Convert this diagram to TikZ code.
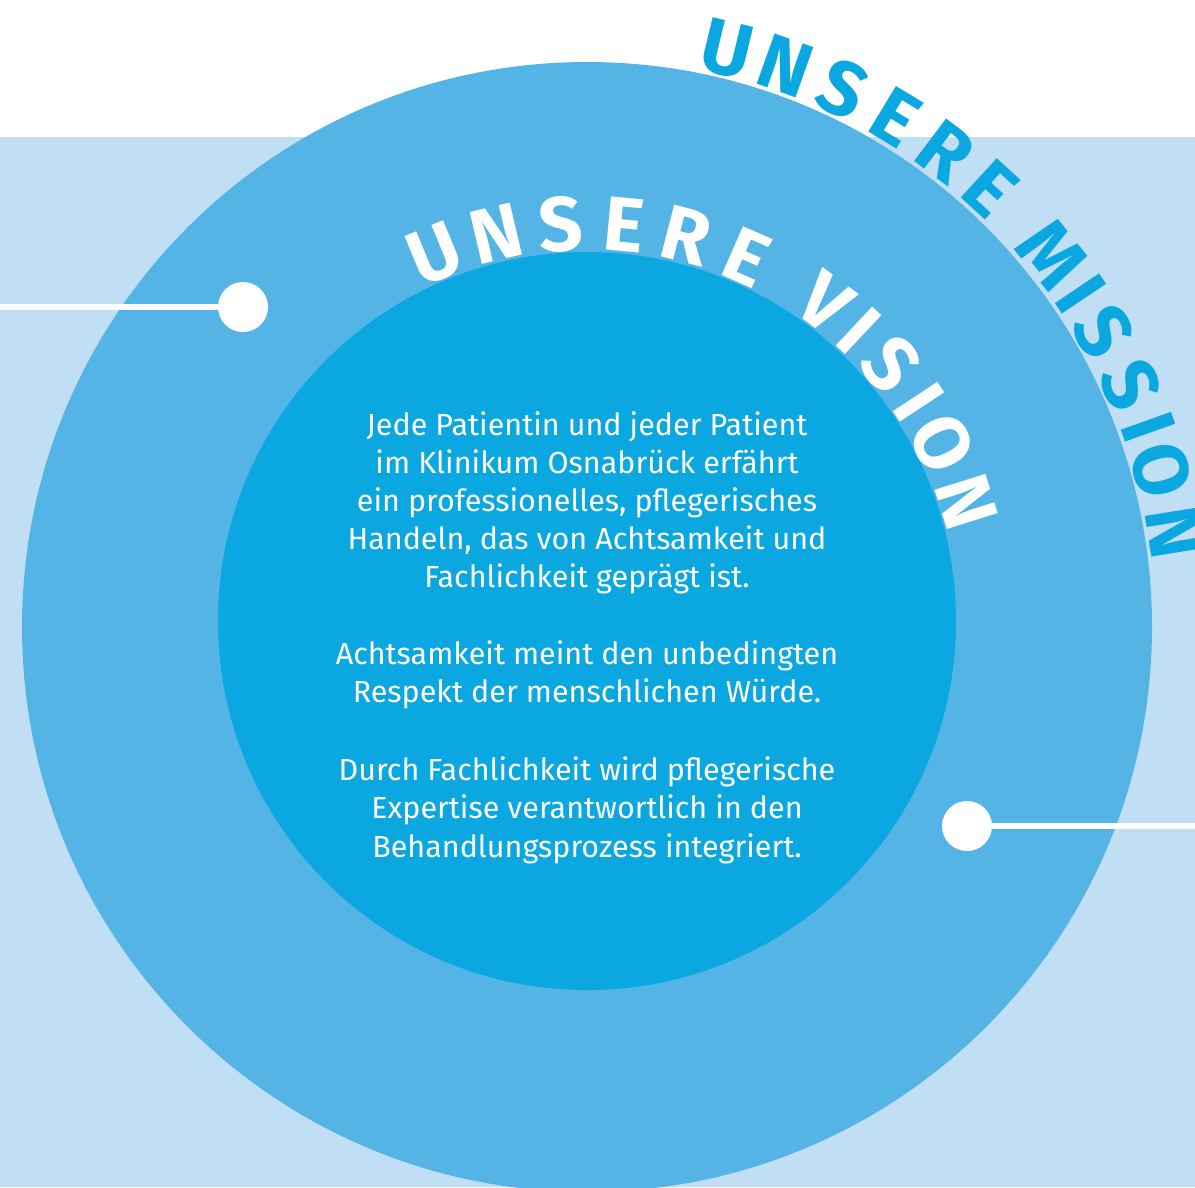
\documentclass[tikz,border=0pt]{standalone}
\usepackage{fontspec}
\setmainfont{Fira Sans}
\definecolor{bglight}{HTML}{C1DFF4}
\definecolor{outerc}{HTML}{54B4E5}
\definecolor{innerc}{HTML}{0AA7E0}
\begin{document}
\begin{tikzpicture}[x=1pt,y=1pt,
  bodytext/.style={text=white, font=\fontsize{30.5}{38}\selectfont, inner sep=0pt, anchor=base},
  visletter/.style={text=white, font=\fontsize{77}{80}\selectfont\bfseries, inner sep=0pt, anchor=base},
  misletter/.style={text=innerc, font=\fontsize{77}{80}\selectfont\bfseries, inner sep=0pt, anchor=base},
  dotnode/.style={circle, fill=white, minimum size=50pt, inner sep=0pt},
  link/.style={draw=white, line width=5.5pt}]
\useasboundingbox (0,0) rectangle (1195,-1187);
\clip (0,0) rectangle (1195,-1187);
\fill[white] (0,0) rectangle (1195,-1187);
\fill[bglight] (0,-137) rectangle (1195,-1187);
\fill[outerc] (587,-627) circle[radius=565];
\fill[innerc] (587,-621) circle[radius=369];
% arc titles
\begin{scope}[shift={(587,-621)}]
\foreach \a/\l [count=\i] in {112.5/U,103.2/N,93.8/S,84.6/E,75.5/R,66.3/E,53.2/V,46.8/I,40.2/S,33.4/I,26.6/O,17.4/N}
  \node[visletter, rotate=\a-90] (v\i) at (\a:371) {\l};
\end{scope}
\begin{scope}[shift={(587,-627)}]
\foreach \a/\l [count=\i] in {76.4/U,70.5/N,64.6/S,58.8/E,53.0/R,47.4/E,38.7/M,34.0/I,29.8/S,24.0/S,19.6/I,15.3/O,9.1/N}
  \node[misletter, rotate=\a-90] (m\i) at (\a:569) {\l};
\end{scope}
% body text
\node[bodytext] (t1) at (587,-435) {Jede Patientin und jeder Patient};
\node[bodytext] (t2) at (587,-473) {im Klinikum Osnabrück erfährt};
\node[bodytext] (t3) at (587,-511) {ein professionelles, pflegerisches};
\node[bodytext] (t4) at (587,-549) {Handeln, das von Achtsamkeit und};
\node[bodytext] (t5) at (587,-587) {Fachlichkeit geprägt ist.};
\node[bodytext] (t6) at (587,-664) {Achtsamkeit meint den unbedingten};
\node[bodytext] (t7) at (587,-702) {Respekt der menschlichen Würde.};
\node[bodytext] (t8) at (587,-780) {Durch Fachlichkeit wird pflegerische};
\node[bodytext] (t9) at (587,-818) {Expertise verantwortlich in den};
\node[bodytext] (t10) at (587,-857) {Behandlungsprozess integriert.};
% dots and lines
\coordinate (lend) at (0,-307);
\coordinate (rend) at (1195,-826);
\node[dotnode] (ldot) at (243,-307) {};
\node[dotnode] (rdot) at (967,-826) {};
\draw[link] (lend) -- (ldot);
\draw[link] (rdot) -- (rend);
\end{tikzpicture}
\end{document}
